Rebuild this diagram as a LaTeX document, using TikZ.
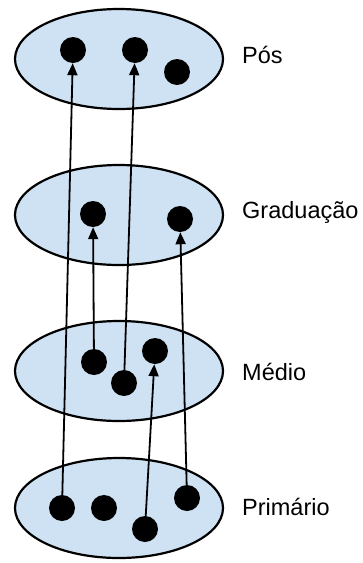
\documentclass[tikz,border=0pt]{standalone}
\usepackage{fontspec}
\setmainfont{Liberation Sans}
\usetikzlibrary{shapes.geometric,arrows.meta}
\definecolor{levelfill}{HTML}{CFE2F3}
\tikzset{
  level/.style={ellipse, draw=black, line width=2.2pt, fill=levelfill,
    minimum width=208pt, minimum height=100pt, inner sep=0pt},
  dot/.style={circle, fill=black, minimum size=26pt, inner sep=0pt},
  levellabel/.style={anchor=base west, inner sep=0pt,
    font=\fontsize{23.5}{26}\selectfont},
  link/.style={line width=1.8pt, -{Triangle[length=12pt,width=10pt]}}
}
\begin{document}
\begin{tikzpicture}[x=1pt,y=-1pt]
\useasboundingbox (0,0) rectangle (363,563);
% levels
\node[level] (pos)  at (119,59)  {};
\node[level] (grad) at (119,215) {};
\node[level] (med)  at (119,371) {};
\node[level] (prim) at (119,508) {};
% labels
\node[levellabel] (lpos)  at (242,63)  {Pós};
\node[levellabel] (lgrad) at (242,218) {Graduação};
\node[levellabel] (lmed)  at (242,380) {Médio};
\node[levellabel] (lprim) at (242,515) {Primário};
% members of each level
\node[dot] (s1) at (73,50)  {};
\node[dot] (s2) at (135,50) {};
\node[dot] (s3) at (177,72) {};
\node[dot] (g1) at (93,214)  {};
\node[dot] (g2) at (180,219) {};
\node[dot] (m1) at (94,362)  {};
\node[dot] (m2) at (124,383) {};
\node[dot] (m3) at (155,351) {};
\node[dot] (p1) at (62,508)  {};
\node[dot] (p2) at (104,508) {};
\node[dot] (p3) at (145,529) {};
\node[dot] (p4) at (187,498) {};
% transitions
\draw[link] (p1.center) -- (s1);
\draw[link] (m2.center) -- (s2);
\draw[link] (m1.center) -- (g1);
\draw[link] (p4.center) -- (g2);
\draw[link] (p3.center) -- (m3);
\end{tikzpicture}
\end{document}
